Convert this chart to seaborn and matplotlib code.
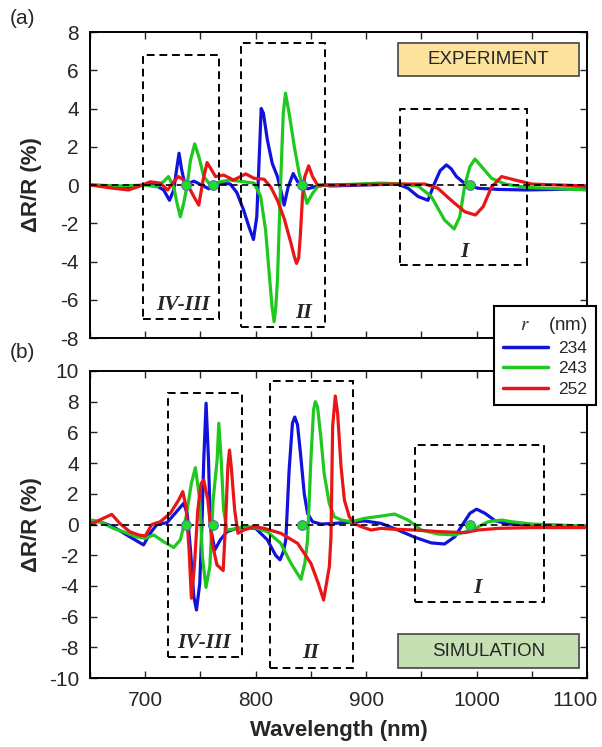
import matplotlib
matplotlib.use("Agg")
import matplotlib.pyplot as plt
from matplotlib.patches import Rectangle
from matplotlib.lines import Line2D
from matplotlib.transforms import ScaledTranslation
import numpy as np
import pandas as pd
import seaborn as sns

# ---------------- data ----------------
radii = ["234", "243", "252"]
colors = {"234": "#1212DC", "243": "#1EC81E", "252": "#E81616"}

# (a) EXPERIMENT
exp_234_wl = [650, 670, 685, 698, 706, 716.7, 722, 725.8, 728.8, 730.6, 733, 736, 744, 751, 757.6, 762,
              771, 777, 783, 789, 794, 798, 801, 803, 805, 807, 810.6, 815, 819.7, 822.7, 825.8, 829.4,
              834, 838, 842.4, 847, 853, 862, 868, 928.8, 938, 947, 956, 962, 967, 972.7, 977, 981.8,
              990.9, 1001.5, 1019.7, 1044, 1100]
exp_234_val = [0, -0.05, -0.15, 0, 0.1, -0.26, -0.8, -0.26, 0.96, 1.66, 0.8, 0, 0.2, 0.0, -0.2, 0,
               0.1, 0.05, -0.4, -1.3, -2.2, -2.85, -1.66, 1.13, 4.0, 3.75, 2.36, 1.13, 0.44, -0.26, -1.05,
               -0.1, 0.6, 0.17, 0, -0.2, -0.1, 0, -0.05, 0.05, -0.17, -0.6, -0.8, 0.1, 0.75, 1.05, 0.85,
               0.44, 0, -0.17, -0.23, -0.26, -0.2]

exp_243_wl = [650, 680, 700, 710.6, 717, 721, 725.8, 729, 731.8, 734.8, 738, 741, 744.8, 748.5, 753,
              757.6, 762, 768, 777, 789, 798.5, 804.5, 809, 813, 814.9, 816.7, 818.2, 819.7, 822.7, 825,
              827, 830.3, 835, 839.4, 843, 846.4, 851.5, 856, 862, 880, 913.7, 931.8, 947, 959, 971,
              979.7, 984.8, 989.4, 994, 998.5, 1004.6, 1013.6, 1025.8, 1044, 1100]
exp_243_val = [0, -0.05, 0, -0.1, 0.2, 0.44, -0.1, -1.0, -1.66, -0.96, 0, 1.3, 2.15, 1.5, 0.44,
               0.1, 0.05, 0.17, 0.26, 0.17, 0.1, -0.6, -2.36, -5.15, -6.4, -7.15, -6.4, -5.0, 0.26, 3.75,
               4.8, 3.75, 2.0, 0.6, -0.17, -0.96, -0.44, -0.1, 0, 0.02, 0.1, 0.05, -0.05, -0.6, -1.83,
               -2.3, -1.66, 0, 0.96, 1.36, 0.96, 0.35, 0.05, -0.12, -0.26]

exp_252_wl = [650, 671, 684.8, 695.5, 704.5, 713.6, 720.3, 725.8, 730, 734.8, 739.4, 744, 748.5, 752.4,
              756, 760, 763.6, 771, 780, 791, 798.5, 807.6, 813.6, 819.7, 825.8, 832, 835, 837, 839,
              840.5, 842.4, 844.5, 848, 851.5, 856, 868, 928.8, 953, 965, 977, 989.4, 999, 1006, 1013.6,
              1022.7, 1034.8, 1050, 1100]
exp_252_val = [0, -0.17, -0.26, -0.05, 0.17, 0.1, -0.26, 0.17, 0.44, 0.26, -0.1, -0.6, -1.05, 0.26,
               1.17, 0.8, 0.44, 0.52, 0.26, 0.58, 0.35, 0.3, -0.1, -0.8, -1.75, -3.05, -3.75, -4.1, -3.8,
               -2.6, -0.6, 0.44, 1.0, 0.44, 0, 0, 0.05, 0.05, -0.17, -0.8, -1.4, -1.57, -1.13, -0.1,
               0.44, 0.26, 0.05, -0.05]

# (b) SIMULATION
sim_234_wl = [650, 659, 671, 686, 698.5, 704.5, 710.6, 719.7, 727, 734.8, 738, 741, 744, 746.4, 749.4,
              751.5, 753, 755.1, 757.3, 759, 763, 768, 774, 783, 790, 800, 810.6, 818, 822, 825, 827.3,
              830.3, 833.3, 835.4, 837.9, 840.9, 844, 847, 851.5, 859, 871, 898.5, 913.7, 928.8, 944,
              959, 971, 980.3, 988, 994, 1000, 1007.6, 1016.7, 1028.8, 1050, 1100]
sim_234_val = [0.18, 0.18, -0.14, -0.8, -1.33, -0.57, 0, 0.12, 0.72, 1.38, 0.72, -1.66, -4.7, -5.57, -3.83,
               0.3, 4.2, 7.9, 4.2, -0.14, -1.66, -1.0, -0.47, -0.25, -0.2, -0.25, -1.0, -2.0, -2.3, -1.8,
               -1.0, 3.55, 6.6, 7.0, 6.5, 4.4, 2.0, 0.72, 0.18, 0.03, 0.07, 0.23, 0.07, -0.36, -0.83,
               -1.2, -1.27, -0.8, 0.07, 0.73, 1.0, 0.73, 0.25, 0.03, -0.03, -0.1]

sim_243_wl = [650, 659, 671, 680, 692, 700, 707.6, 716.7, 725.8, 731.8, 737, 741.8, 745.4, 749.4, 751.8,
              755, 758.5, 761.5, 765.1, 766.6, 768.8, 771, 774, 780, 789, 798.5, 810.6, 822.7, 832, 841,
              844.5, 847, 850, 852.4, 854, 856, 859, 862, 866.6, 871.2, 877.3, 886.4, 898.5, 913.7,
              925.8, 937.9, 950, 965, 980.3, 995.5, 1010.6, 1022.7, 1031.8, 1050, 1100]
sim_243_val = [0.3, 0.2, -0.25, -0.47, -0.8, -0.9, -0.68, -1.12, -1.5, -1.0, 0.5, 2.68, 3.7, 1.6, -2.1,
               -4.1, -2.75, 1.6, 4.2, 6.6, 4.2, 0.94, -0.36, -0.3, -0.14, -0.18, -0.47, -1.23, -2.53, -3.57,
               -2.53, -1.0, 4.2, 7.46, 8.0, 7.67, 5.7, 3.33, 1.38, 0.5, 0.3, 0.18, 0.4, 0.55,
               0.68, 0.29, -0.36, -0.62, -0.68, -0.36, 0.18, 0.29, 0.18, 0.03, -0.1]

sim_252_wl = [650, 659, 669.7, 677, 686, 694, 700, 706, 713.6, 722.7, 730.3, 734, 737, 739.7, 741.8,
              744.5, 747.6, 750.6, 753, 756.7, 760.6, 765, 770.6, 773, 774.8, 776.3, 777.9, 781, 784,
              789, 798.5, 807.6, 822.7, 838, 850, 856.7, 861.5, 866.7, 868.2, 869.7, 872.1, 874.2, 877.3,
              880.3, 884.8, 889.4, 895.4, 904.5, 913.7, 922.7, 944, 968, 989.4, 1001.5, 1019.7, 1050, 1100]
sim_252_val = [0, 0.3, 0.66, 0.07, -0.47, -0.68, -0.75, 0, 0.18, 0.73, 1.6, 2.14, 1.16, -1.66, -4.8,
               -2.75, 0.94, 2.68, 2.9, 1.6, -1.23, -2.64, -3.0, 0.5, 3.76, 4.85, 3.76, 0.94, -0.57,
               -0.37, -0.14, -0.25, -0.57, -1.23, -2.53, -3.83, -4.92, -2.75, -0.8, 6.4, 8.37, 7.24, 3.77,
               1.6, 0.5, 0.07, -0.14, -0.36, -0.25, -0.3, -0.36, -0.47, -0.53, -0.36, -0.25, -0.2, -0.2]

# crossing points marked with green dots
dot_wl = [736.5, 761.8, 842.4, 994]

# region boxes: (label, x0, x1, y0, y1, label x, label y)
regions_a = [("IV-III", 698, 766.6, -7.0, 6.8, 734.5, -6.3),
             ("II", 786.4, 863, -7.4, 7.4, 843.6, -6.7),
             ("I", 931, 1046, -4.2, 4.0, 989, -3.5)]
regions_b = [("IV-III", 720.3, 787.5, -8.6, 8.55, 753.6, -7.7),
             ("II", 812.7, 888.5, -9.37, 9.37, 850, -8.4),
             ("I", 944, 1061, -5.03, 5.18, 1000.6, -4.16)]

x_ticks = [700, 800, 900, 1000, 1100]
ya_ticks = list(range(-8, 9, 2))
yb_ticks = list(range(-10, 11, 2))


def make_df(series):
    frames = []
    for r, wl, val in series:
        frames.append(pd.DataFrame({"wl": wl, "val": val, "r": r}))
    return pd.concat(frames, ignore_index=True)


df_a = make_df([("234", exp_234_wl, exp_234_val), ("243", exp_243_wl, exp_243_val),
                ("252", exp_252_wl, exp_252_val)])
df_b = make_df([("234", sim_234_wl, sim_234_val), ("243", sim_243_wl, sim_243_val),
                ("252", sim_252_wl, sim_252_val)])

# ---------------- style ----------------
sns.set_style("ticks")
plt.rcParams["font.family"] = ["Liberation Sans", "DejaVu Sans"]
plt.rcParams["mathtext.fontset"] = "stix"
plt.rcParams["axes.unicode_minus"] = False

fig = plt.figure(figsize=(6.02, 7.47), dpi=100)
ax1 = fig.add_axes([90 / 602, 1 - 338 / 747, 497 / 602, 306 / 747])
ax2 = fig.add_axes([90 / 602, 1 - 678 / 747, 497 / 602, 307 / 747])

for ax, df, regions, yt, ylim in [(ax1, df_a, regions_a, ya_ticks, (-8, 8)),
                                   (ax2, df_b, regions_b, yb_ticks, (-10, 10))]:
    sns.lineplot(data=df, x="wl", y="val", hue="r", hue_order=radii, palette=colors,
                 estimator=None, lw=2.3, ax=ax, legend=False, zorder=2)
    ax.axhline(0, color="k", lw=1.2, ls=(0, (4, 2.5)), zorder=3)
    ax.plot(dot_wl, [0] * len(dot_wl), "o", ms=7, mfc="#22DD22", mec="#4A78C0", mew=0.8, zorder=4)
    for lab, x0, x1, y0, y1, lx, ly in regions:
        ax.add_patch(Rectangle((x0, y0), x1 - x0, y1 - y0, fill=False, ec="k", lw=1.4,
                               ls=(0, (4, 2.5)), zorder=3))
        ax.text(lx, ly, lab, ha="center", va="center", fontsize=15.5, fontweight="bold",
                fontstyle="italic", family=["Liberation Serif", "DejaVu Serif"], zorder=5)
    ax.set_xlim(650, 1100)
    ax.set_ylim(*ylim)
    ax.set_yticks(yt)
    ax.set_xticks(x_ticks)
    ax.set_xticks(list(range(650, 1101, 50)), minor=True)
    ax.tick_params(which="both", direction="in", top=True, right=True, length=5, width=1,
                   labelsize=15, pad=8)
    for s in ax.spines.values():
        s.set_linewidth(1.4)
        s.set_color("k")
    ax.set_ylabel("ΔR/R (%)", fontsize=16, fontweight="bold")
    ax.yaxis.label.set_va("center")
    ax.yaxis.set_label_coords(-0.117, 0.5)
    ax.set_xlabel("")

ax1.tick_params(labelbottom=False)
ax2.set_xlabel("Wavelength (nm)", fontsize=16, fontweight="bold")
ax2.xaxis.label.set_va("center")
ax2.xaxis.set_label_coords(0.5, -0.17)
ax2.tick_params(axis="x", pad=9)

# the last x tick label sits shifted left (as in the reference)
fig.canvas.draw()
last = ax2.get_xticklabels()[-1]
last.set_transform(last.get_transform() + ScaledTranslation(-0.12, 0, fig.dpi_scale_trans))

# EXPERIMENT / SIMULATION tags
ax1.add_patch(Rectangle((928.8, 5.72), 1092.5 - 928.8, 7.45 - 5.72, fc="#FCE29C", ec="#444444",
                        lw=1.2, zorder=5))
ax1.text(1010.6, 6.58, "EXPERIMENT", ha="center", va="center", fontsize=13.5, zorder=6)
ax2.add_patch(Rectangle((928.8, -9.37), 1092.5 - 928.8, -7.15 + 9.37, fc="#C5E0B3", ec="#444444",
                        lw=1.2, zorder=5))
ax2.text(1010.6, -8.26, "SIMULATION", ha="center", va="center", fontsize=13.5, zorder=6)

# panel labels
fig.text(22 / 602, 1 - 18 / 747, "(a)", ha="center", va="center", fontsize=15)
fig.text(22 / 602, 1 - 352 / 747, "(b)", ha="center", va="center", fontsize=15)

# legend straddling both panels
handles = [Line2D([0], [0], color=colors[r], lw=2.5) for r in radii]
leg = fig.legend(handles, radii, title="$r$    (nm)", loc="upper right",
                 bbox_to_anchor=(596 / 602, 1 - 306 / 747), fontsize=12.5, title_fontsize=13.5,
                 frameon=True, fancybox=False, framealpha=1, edgecolor="k", handlelength=2.6,
                 borderpad=0.5, labelspacing=0.3, handletextpad=0.6, borderaxespad=0)
leg.get_frame().set_linewidth(1.5)
leg.set_zorder(10)
leg._legend_box.align = "right"

fig.savefig("out.png", dpi=100)
